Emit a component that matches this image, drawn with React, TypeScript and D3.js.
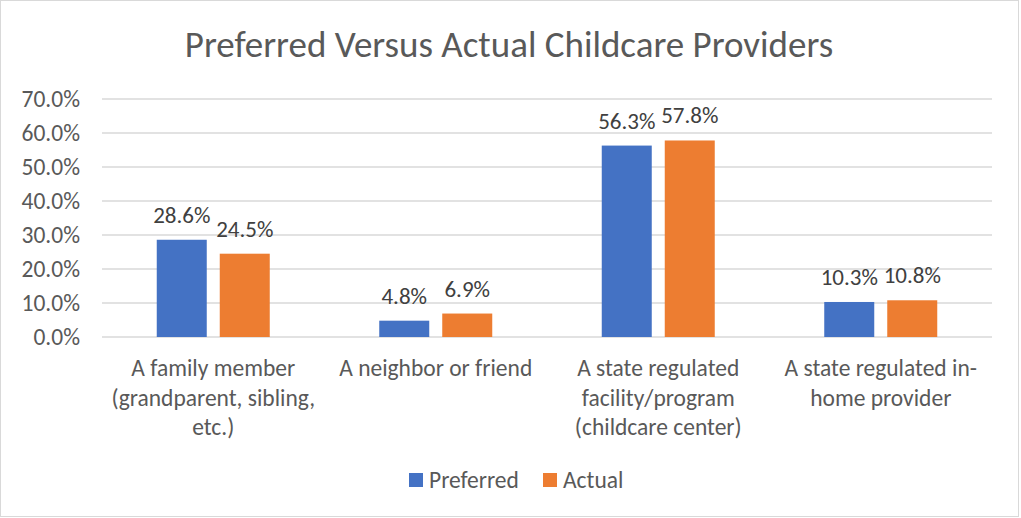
import React from "react";
import * as d3 from "d3";

const categories = [
  "A family member (grandparent, sibling, etc.)",
  "A neighbor or friend",
  "A state regulated facility/program (childcare center)",
  "A state regulated in-home provider",
];
const categoryLines = [
  ["A family member", "(grandparent, sibling,", "etc.)"],
  ["A neighbor or friend"],
  ["A state regulated", "facility/program", "(childcare center)"],
  ["A state regulated in-", "home provider"],
];
const seriesNames = ["Preferred", "Actual"];
const preferred = [28.6, 4.8, 56.3, 10.3];
const actual = [24.5, 6.9, 57.8, 10.8];
const yTicks = [0, 10, 20, 30, 40, 50, 60, 70];
const colors = ["#4472C4", "#ED7D31"];

const W = 1021;
const H = 518;
const FONT = "Carlito, Calibri, Lato, 'Open Sans', sans-serif";
const TEXT = "#595959";

export default function App() {
  const left = 102;
  const right = 992;
  const top = 99;
  const bottom = 337;

  const x0 = d3.scaleBand<string>().domain(categories).range([left, right]).paddingInner(0).paddingOuter(0);
  const groupW = 113;
  const x1 = d3.scaleBand<string>().domain(seriesNames).range([0, groupW]).paddingInner(13 / 63).paddingOuter(0);
  const y = d3.scaleLinear().domain([0, 70]).range([bottom, top]);
  const series = [preferred, actual];
  const legendX = [409, 543];

  return (
    <svg width={W} height={H} style={{ position: "absolute", left: 0, top: 0, background: "#fff" }} fontFamily={FONT}>
      <rect x={0.5} y={0.5} width={W - 3} height={H - 2} fill="#fff" stroke="#D9D9D9" />
      <text x={509} y={57} textAnchor="middle" fontSize={37} fill={TEXT}>
        Preferred Versus Actual Childcare Providers
      </text>
      {yTicks.map((t) => (
        <g key={t}>
          <line x1={left} x2={right} y1={y(t)} y2={y(t)} stroke="#D9D9D9" strokeWidth={1.3} />
          <text x={80} y={y(t)} dy="0.36em" textAnchor="end" fontSize={23.5} fill={TEXT}>
            {t.toFixed(1)}%
          </text>
        </g>
      ))}
      {categories.map((c, i) => {
        const gx = (x0(c) as number) + x0.bandwidth() / 2 - groupW / 2;
        return (
          <g key={c}>
            {series.map((s, j) => {
              const bx = gx + (x1(seriesNames[j]) as number);
              return (
                <g key={j}>
                  <rect x={bx} y={y(s[i])} width={x1.bandwidth()} height={y(0) - y(s[i])} fill={colors[j]} />
                  <text x={bx + x1.bandwidth() / 2} y={y(s[i]) - 17} textAnchor="middle" fontSize={23} fill="#404040">
                    {s[i].toFixed(1)}%
                  </text>
                </g>
              );
            })}
            {categoryLines[i].map((ln, k) => (
              <text key={k} x={(x0(c) as number) + x0.bandwidth() / 2} y={376 + k * 29.5} textAnchor="middle" fontSize={23.5} fill={TEXT}>
                {ln}
              </text>
            ))}
          </g>
        );
      })}
      <g>
        {seriesNames.map((n, j) => (
          <g key={n}>
            <rect x={legendX[j]} y={473} width={14} height={14} fill={colors[j]} />
            <text x={legendX[j] + 20} y={488} fontSize={23.5} fill={TEXT}>{n}</text>
          </g>
        ))}
      </g>
    </svg>
  );
}
